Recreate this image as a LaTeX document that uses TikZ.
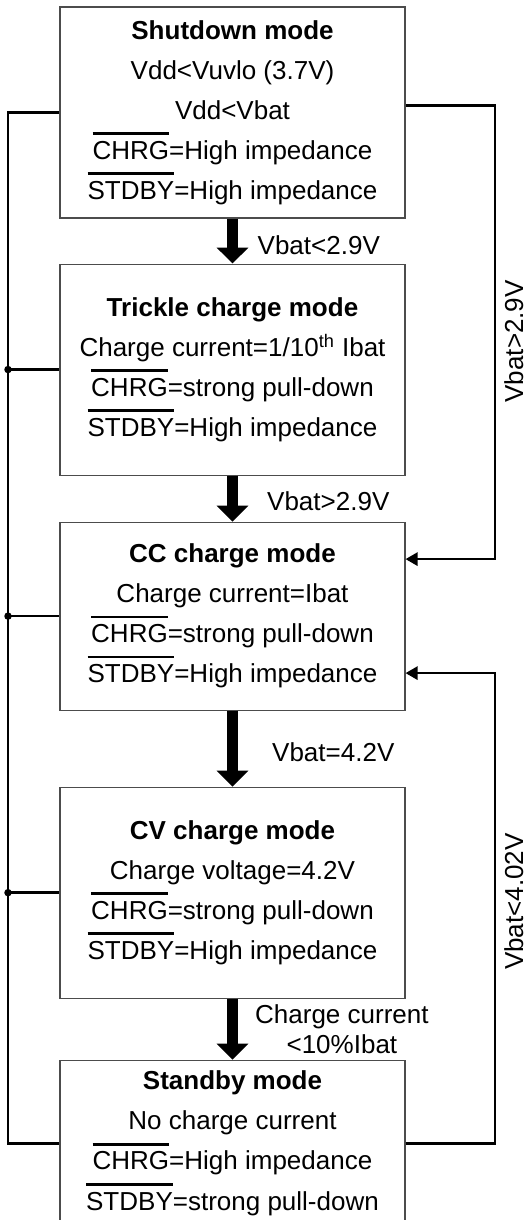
\documentclass[tikz,border=0pt]{standalone}
\usepackage{fontspec}
\setmainfont{Liberation Sans}
\usetikzlibrary{calc,positioning}
\usetikzlibrary{arrows.meta}

\newcommand{\ovl}[1]{\sbox0{#1}\rlap{\rule[\dimexpr\ht0+3.6pt\relax]{\wd0}{1.5pt}}#1}

\begin{document}
\begin{tikzpicture}[%
    text=black,
    node font=\fontsize{14.8pt}{22.8pt}\selectfont,
    mode/.style={rectangle, draw=black!70, line width=0.6pt,
      minimum width=6.9cm, minimum height=4.22cm, align=center, inner sep=0},
    flow/.style={line width=0.22cm, -{Triangle[width=0.62cm,length=0.32cm]}},
    sig/.style={line width=1.5pt, -{Triangle[width=0.26cm,length=0.24cm]}},
    bus/.style={line width=1.5pt},
    jdot/.style={circle, fill, inner sep=0, minimum size=0.15cm}]

  \useasboundingbox (0,0) rectangle (10.52,-24.4);
  \clip (0,0) rectangle (10.52,-24.4);

  \node (SD) at (4.65,-2.25) [mode]
        {\textbf{Shutdown mode}\\Vdd<Vuvlo (3.7V)\\Vdd<Vbat\\
         \ovl{CHRG}=High impedance\\\ovl{STDBY}=High impedance};

  \node (TC) [below=0.9cm of SD, mode]
        {\textbf{Trickle charge mode}\\Charge current=1/10\textsuperscript{th} Ibat\\
         \ovl{CHRG}=strong pull-down\\\ovl{STDBY}=High impedance};

  \node (CC) [below=0.92cm of TC, mode, minimum height=3.76cm]
        {\textbf{CC charge mode}\\Charge current=Ibat\\
         \ovl{CHRG}=strong pull-down\\\ovl{STDBY}=High impedance};

  \node (CV) [below=1.52cm of CC, mode]
        {\textbf{CV charge mode}\\Charge voltage=4.2V\\
         \ovl{CHRG}=strong pull-down\\\ovl{STDBY}=High impedance};

  \node (SB) [below=1.22cm of CV, mode, minimum height=3.32cm]
        {\textbf{Standby mode}\\No charge current\\
         \ovl{CHRG}=High impedance\\\ovl{STDBY}=strong pull-down};

  % --- main flow ------------------------
  \draw[flow] (SD) -- node[right=0.22cm,pos=0.6] {Vbat<2.9V} (TC);
  \draw[flow] (TC) -- node[right=0.41cm,pos=0.55] {Vbat>2.9V} (CC);
  \draw[flow] (CC) -- node[right=0.51cm,pos=0.55] {Vbat=4.2V} (CV);
  \draw[flow] (CV) -- node[right=0.17cm,pos=0.5,align=center,
        font=\fontsize{14.8pt}{17.6pt}\selectfont]
        {Charge current\\<10\%Ibat} (SB);

  % --- left bus -------------------------
  \coordinate (LB) at (0.16,0);
  \draw[bus] (SD.west) -- (SD.west -| LB) -- (SB.west -| LB) -- (SB.west);
  \draw[bus] (TC.west -| LB) -- (TC.west);
  \draw[bus] (CC.west -| LB) -- (CC.west);
  \draw[bus] (CV.west -| LB) -- (CV.west);
  \node at (TC.west -| LB) [jdot] {};
  \node at (CC.west -| LB) [jdot] {};
  \node at (CV.west -| LB) [jdot] {};

  % --- right returns --------------------
  \coordinate (RB) at (9.9,0);
  \coordinate (SDr) at ($(SD.east)+(0,0.14)$);
  \coordinate (CCa) at ($(CC.east)+(0,1.14)$);
  \coordinate (CCb) at ($(CC.east)+(0,-1.14)$);

  \draw[sig] (SDr) -- (SDr -| RB) --
      node[pos=0.52,rotate=90,anchor=north,inner sep=0.16cm] {Vbat>2.9V}
      (CCa -| RB) -- (CCa);
  \draw[sig] (SB.east) -- (SB.east -| RB) --
      node[pos=0.514,rotate=90,anchor=north,inner sep=0.16cm] {Vbat<4.02V}
      (CCb -| RB) -- (CCb);
\end{tikzpicture}
\end{document}
